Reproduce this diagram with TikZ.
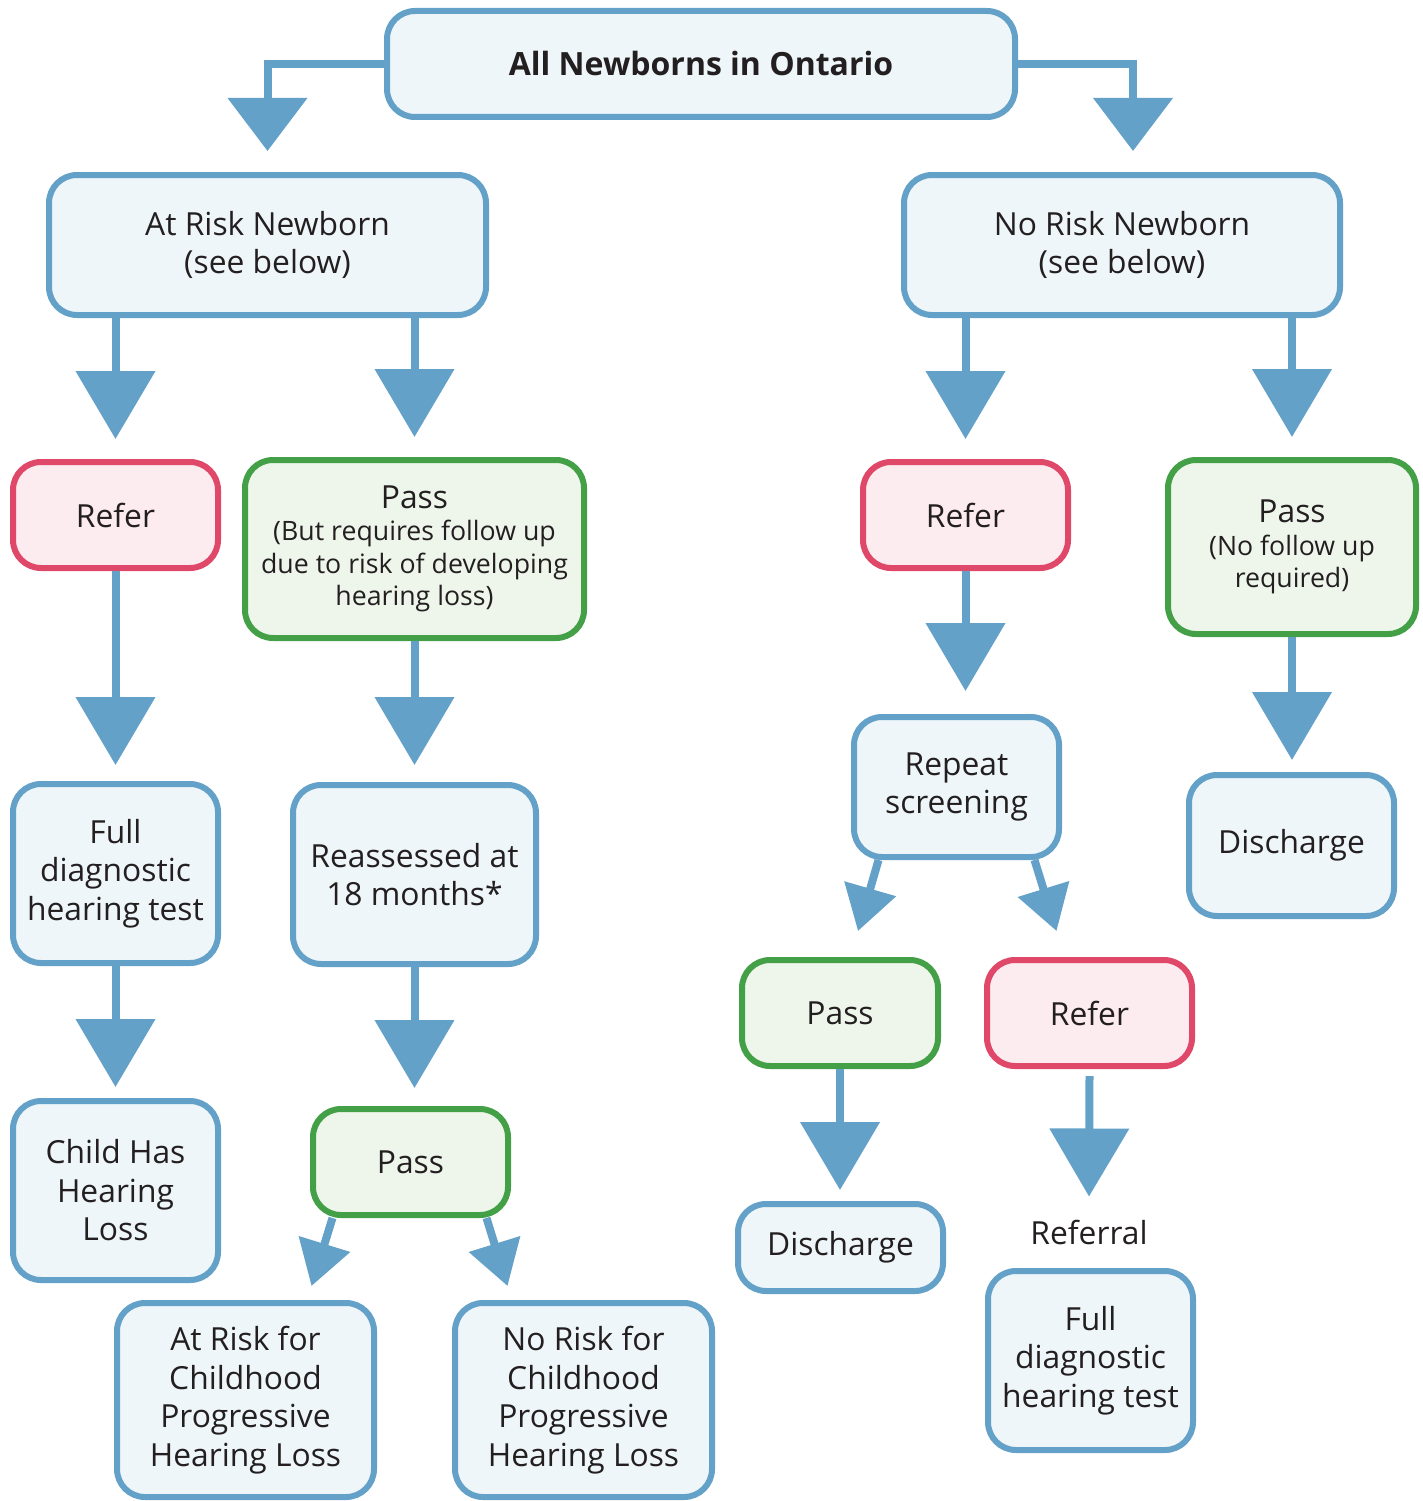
\documentclass[tikz,border=0pt]{standalone}
\usepackage{fontspec}
\setmainfont{Open Sans}
\usetikzlibrary{arrows.meta}
\definecolor{bline}{HTML}{64A1C8}
\definecolor{bfill}{HTML}{EEF6F9}
\definecolor{rline}{HTML}{E0486A}
\definecolor{rfill}{HTML}{FCEBEF}
\definecolor{gline}{HTML}{43A047}
\definecolor{gfill}{HTML}{EEF6EC}
\definecolor{txt}{HTML}{231F20}
\newcommand{\bigtxt}{\fontsize{31.8}{38.5}\selectfont}
\newcommand{\smalltxt}{\fontsize{26.7}{32.5}\selectfont}
\begin{document}
\begin{tikzpicture}[x=1pt,y=-1pt,
  box/.style={draw, line width=6pt, rounded corners=28pt, align=center, inner sep=0pt, text=txt, font=\bigtxt},
  bluebox/.style={box, draw=bline, fill=bfill},
  redbox/.style={box, draw=rline, fill=rfill},
  greenbox/.style={box, draw=gline, fill=gfill},
  arr/.style={draw=bline, line width=8pt, -{Triangle[width=78pt,length=68pt]}},
  arrtop/.style={draw=bline, line width=8pt, -{Triangle[width=78pt,length=53pt]}},
  arrsm/.style={draw=bline, line width=8pt, -{Triangle[width=52pt,length=44pt]}}
]
\useasboundingbox (0,0) rectangle (1422,1501);

% nodes
\node[bluebox, minimum width=628pt, minimum height=106pt, font=\fontsize{32}{38}\selectfont\bfseries] (top) at (701,64) {All Newborns in Ontario};
\node[bluebox, minimum width=437pt, minimum height=140pt] (atrisk) at (267.5,245) {At Risk Newborn\\(see below)};
\node[bluebox, minimum width=436pt, minimum height=140pt] (norisk) at (1122,245) {No Risk Newborn\\(see below)};

\node[redbox, minimum width=205pt, minimum height=106pt] (refer1) at (115.5,515) {Refer};
\node[greenbox, minimum width=339pt, minimum height=178pt, font=\smalltxt] (pass1) at (414.5,549) {{\bigtxt Pass}\\(But requires follow up\\due to risk of developing\\hearing loss)};
\node[bluebox, minimum width=205pt, minimum height=179pt] (full1) at (115.5,873.5) {Full\\diagnostic\\hearing test};
\node[bluebox, minimum width=243pt, minimum height=179pt] (reass) at (414.5,874.5) {Reassessed at\\18 months*};
\node[bluebox, minimum width=205pt, minimum height=179pt] (child) at (115.5,1190.5) {Child Has\\Hearing\\Loss};
\node[greenbox, minimum width=195pt, minimum height=106pt] (pass2) at (410.5,1162) {Pass};
\node[bluebox, minimum width=257pt, minimum height=194pt] (atriskc) at (245.5,1400) {At Risk for\\Childhood\\Progressive\\Hearing Loss};
\node[bluebox, minimum width=257pt, minimum height=194pt] (noriskc) at (583.5,1400) {No Risk for\\Childhood\\Progressive\\Hearing Loss};

\node[redbox, minimum width=205pt, minimum height=106pt] (refer2) at (965.5,515) {Refer};
\node[greenbox, minimum width=248pt, minimum height=174pt, font=\smalltxt] (pass3) at (1292,547) {{\bigtxt Pass}\\(No follow up\\required)};
\node[bluebox, minimum width=205pt, minimum height=140pt] (repeat) at (956.5,787) {Repeat\\screening};
\node[bluebox, minimum width=205pt, minimum height=141pt] (disch1) at (1291.5,845.5) {Discharge};
\node[greenbox, minimum width=196pt, minimum height=106pt] (pass4) at (840,1013) {Pass};
\node[redbox, minimum width=205pt, minimum height=106pt] (refer3) at (1089.5,1013) {Refer};
\node[bluebox, minimum width=205pt, minimum height=87pt] (disch2) at (840.5,1247.5) {Discharge};
\node[text=txt, font=\bigtxt, inner sep=0pt] (referral) at (1089,1232) {Referral};
\node[bluebox, minimum width=205pt, minimum height=179pt] (full2) at (1090.5,1360.5) {Full\\diagnostic\\hearing test};

% connectors
\draw[arrtop] (top.west) -| ([yshift=21pt]atrisk.north);
\draw[arrtop] (top.east) -| ([xshift=11pt,yshift=21pt]norisk.north);

\draw[arr] (atrisk.south -| refer1.north) -- ([yshift=20pt]refer1.north);
\draw[arr] (atrisk.south -| pass1.north) -- ([yshift=20pt]pass1.north);
\draw[arr] (refer1.south) -- ([yshift=16pt]full1.north);
\draw[arr] (full1.south) -- ([yshift=11pt]child.north);
\draw[arr] (pass1.south) -- ([yshift=17pt]pass1.south |- reass.north);
\draw[arr] (reass.south) -- ([yshift=18pt]reass.south |- pass2.north);
\draw[arrsm] ([xshift=-78pt]pass2.south) -- ([xshift=66pt,yshift=14pt]atriskc.north);
\draw[arrsm] ([xshift=76pt]pass2.south) -- ([xshift=-76pt,yshift=14pt]noriskc.north);

\draw[arr] (norisk.south -| refer2.north) -- ([yshift=20pt]refer2.north);
\draw[arr] (norisk.south -| pass3.north) -- ([yshift=20pt]pass3.north);
\draw[arr] (refer2.south) -- ([yshift=23pt]refer2.south |- repeat.north);
\draw[arr] (pass3.south) -- ([yshift=12pt]pass3.south |- disch1.north);
\draw[arrsm] ([xshift=-78pt]repeat.south) -- ([xshift=18pt,yshift=26pt]pass4.north);
\draw[arrsm] ([xshift=78pt]repeat.south) -- ([xshift=-33pt,yshift=26pt]refer3.north);
\draw[arr] (pass4.south) -- ([yshift=11pt]pass4.south |- disch2.north);
\draw[arr] ([yshift=-7pt]refer3.south) -- ([yshift=23pt]referral.north);
\end{tikzpicture}
\end{document}
